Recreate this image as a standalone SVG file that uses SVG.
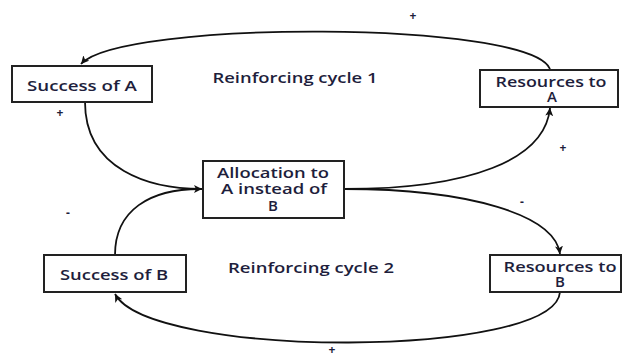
<svg xmlns="http://www.w3.org/2000/svg" width="622" height="360" viewBox="0 0 622 360">
<defs>
<style>
.box{fill:#fff;stroke:#222;stroke-width:2}
.lbl{font-family:"Open Sans","Liberation Sans",sans-serif;font-weight:600;font-size:14px;fill:#1e1e3c;text-anchor:middle}
.one{font-size:15px}
.sign{font-family:"Open Sans","Liberation Sans",sans-serif;font-weight:700;font-size:12px;fill:#1e1e3c;text-anchor:middle}
.conn{fill:none;stroke:#111;stroke-width:1.8}
</style>
<marker id="arr" markerWidth="10" markerHeight="10" refX="8" refY="4" orient="auto" markerUnits="userSpaceOnUse">
<path d="M0,0 L8,4 L0,8 L2,4 z" fill="#111"/>
</marker>
</defs>
<rect width="622" height="360" fill="#fff"/>
<g id="connectors">
<path class="conn" d="M550,69 C530,20 120,20 81,64" marker-end="url(#arr)"/>
<path class="conn" d="M85,102 C85,170 150,189 202,189" marker-end="url(#arr)"/>
<path class="conn" d="M115,255 C115,210 150,189 200,189"/>
<path class="conn" d="M344,189 C470,189 545,160 550,108" marker-end="url(#arr)"/>
<path class="conn" d="M344,189 C470,189 555,215 560,254" marker-end="url(#arr)"/>
<path class="conn" d="M560,292 C555,359 150,359 115,294" marker-end="url(#arr)"/>
</g>
<g id="successA">
<rect class="box" x="12" y="66" width="140" height="36"/>
<text class="lbl" x="82" y="91" textLength="110" lengthAdjust="spacingAndGlyphs">Success of A</text>
</g>
<g id="resourcesA">
<rect class="box" x="480" y="70" width="138" height="37"/>
<text class="lbl" x="551" y="87" textLength="111" lengthAdjust="spacingAndGlyphs">Resources to</text>
<text class="lbl one" x="552" y="102">A</text>
</g>
<g id="allocation">
<rect class="box" x="203" y="161" width="141" height="57"/>
<text class="lbl" x="273" y="178" textLength="112" lengthAdjust="spacingAndGlyphs">Allocation to</text>
<text class="lbl" x="274" y="194" textLength="106" lengthAdjust="spacingAndGlyphs">A instead of</text>
<text class="lbl one" x="273" y="211">B</text>
</g>
<g id="successB">
<rect class="box" x="44" y="255" width="142" height="37"/>
<text class="lbl" x="114" y="280" textLength="108" lengthAdjust="spacingAndGlyphs">Success of B</text>
</g>
<g id="resourcesB">
<rect class="box" x="490" y="255" width="131" height="37"/>
<text class="lbl" x="560" y="272" textLength="113" lengthAdjust="spacingAndGlyphs">Resources to</text>
<text class="lbl one" x="560" y="287">B</text>
</g>
<g id="labels">
<text class="lbl" x="295" y="83" textLength="165" lengthAdjust="spacingAndGlyphs">Reinforcing cycle 1</text>
<text class="lbl" x="311" y="273" textLength="166" lengthAdjust="spacingAndGlyphs">Reinforcing cycle 2</text>
<text class="sign" x="413" y="20">+</text>
<text class="sign" x="60" y="117">+</text>
<text class="sign" x="563" y="152">+</text>
<text class="sign" x="332" y="354">+</text>
<text class="sign" x="68" y="217">-</text>
<text class="sign" x="522" y="206">-</text>
</g>
</svg>
